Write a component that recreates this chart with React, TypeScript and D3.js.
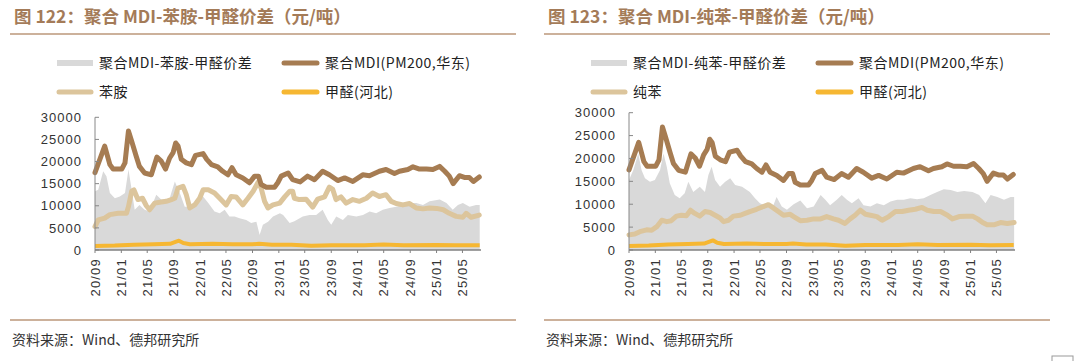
import React from 'react'
import * as d3 from 'd3'

// 聚合MDI(PM200,华东), shared by both panels
const mdiPrice: [string, number][] = [
  ['2020-09-01', 17500], ['2020-10-16', 23500], ['2020-11-09', 19300], ['2020-11-24', 18300],
  ['2021-01-03', 18300], ['2021-01-18', 19700], ['2021-02-03', 26900], ['2021-02-18', 24600],
  ['2021-03-11', 21200], ['2021-03-26', 18900], ['2021-04-19', 17400], ['2021-05-20', 17000],
  ['2021-06-15', 21000], ['2021-07-05', 20100], ['2021-07-25', 18300], ['2021-08-13', 20800],
  ['2021-08-29', 22000], ['2021-09-10', 24200], ['2021-09-21', 23500], ['2021-10-06', 20500],
  ['2021-10-29', 19700], ['2021-11-22', 19300], ['2021-12-11', 21400], ['2022-01-15', 21800],
  ['2022-02-01', 20500], ['2022-02-23', 19300], ['2022-03-24', 18800], ['2022-04-16', 17800],
  ['2022-05-10', 17000], ['2022-05-29', 18600], ['2022-06-17', 17000], ['2022-07-18', 16300],
  ['2022-08-18', 15200], ['2022-09-11', 16700], ['2022-09-29', 16700], ['2022-10-11', 14800],
  ['2022-11-04', 14200], ['2022-12-12', 14200], ['2022-12-27', 15200], ['2023-01-12', 16700],
  ['2023-02-13', 17400], ['2023-03-06', 15900], ['2023-04-10', 15400], ['2023-05-14', 16700],
  ['2023-06-15', 15900], ['2023-07-23', 17800], ['2023-08-23', 17000], ['2023-10-01', 15700],
  ['2023-11-02', 16300], ['2023-12-10', 15500], ['2024-01-25', 17000], ['2024-02-25', 16800],
  ['2024-04-11', 17800], ['2024-05-12', 18200], ['2024-06-20', 17300], ['2024-07-13', 17800],
  ['2024-08-21', 18200], ['2024-09-14', 18800], ['2024-10-14', 18300], ['2024-11-15', 18300],
  ['2024-12-15', 18200], ['2025-01-15', 18900], ['2025-02-08', 17800], ['2025-03-01', 16700],
  ['2025-03-19', 15000], ['2025-04-17', 16800], ['2025-05-10', 16400], ['2025-06-02', 16400],
  ['2025-06-21', 15500], ['2025-07-18', 16500],
]

// 甲醛(河北), shared
const formaldehydePrice: [string, number][] = [
  ['2020-09-01', 900], ['2020-12-01', 1000], ['2021-03-01', 1200], ['2021-06-01', 1300],
  ['2021-08-15', 1400], ['2021-09-25', 2100], ['2021-10-15', 1600], ['2021-11-15', 1300],
  ['2022-03-01', 1400], ['2022-06-01', 1300], ['2022-09-01', 1300], ['2022-10-01', 1400],
  ['2022-12-01', 1200], ['2023-03-01', 1200], ['2023-06-01', 950], ['2023-09-01', 1100],
  ['2024-02-01', 1100], ['2024-05-01', 1250], ['2024-08-01', 1100], ['2025-01-01', 1150],
  ['2025-04-01', 1050], ['2025-07-20', 1100],
]

// 苯胺
const anilinePrice: [string, number][] = [
  ['2020-09-01', 5300], ['2020-09-16', 6800], ['2020-10-16', 7200], ['2020-11-09', 8000],
  ['2020-12-17', 8300], ['2021-01-25', 8300], ['2021-02-03', 9800], ['2021-02-18', 13300],
  ['2021-02-28', 13600], ['2021-03-19', 11400], ['2021-04-09', 11700], ['2021-04-27', 10000],
  ['2021-05-12', 9100], ['2021-06-05', 10600], ['2021-06-28', 10800], ['2021-07-28', 11000],
  ['2021-08-21', 11400], ['2021-09-06', 11700], ['2021-09-21', 14000], ['2021-10-14', 14400],
  ['2021-10-29', 12500], ['2021-11-14', 9500], ['2021-12-07', 10200], ['2021-12-30', 11700],
  ['2022-01-15', 13600], ['2022-02-08', 13600], ['2022-03-09', 12900], ['2022-04-02', 11700],
  ['2022-05-02', 10200], ['2022-05-25', 12100], ['2022-06-17', 12000], ['2022-07-18', 10200],
  ['2022-08-11', 11700], ['2022-09-04', 13300], ['2022-09-27', 15300], ['2022-10-11', 14000],
  ['2022-10-27', 11000], ['2022-11-12', 9500], ['2022-12-05', 10200], ['2023-01-05', 10600],
  ['2023-01-28', 12000], ['2023-02-21', 13300], ['2023-03-06', 13300], ['2023-03-14', 11700],
  ['2023-04-06', 11400], ['2023-05-07', 11500], ['2023-06-07', 9700], ['2023-06-30', 11500],
  ['2023-08-01', 12000], ['2023-08-23', 14200], ['2023-09-08', 13700], ['2023-09-23', 11400],
  ['2023-10-16', 12000], ['2023-11-09', 10600], ['2023-12-10', 11400], ['2024-01-10', 11000],
  ['2024-02-11', 11700], ['2024-03-11', 12900], ['2024-04-11', 12100], ['2024-05-12', 12500],
  ['2024-06-05', 11000], ['2024-06-28', 10500], ['2024-07-29', 10200], ['2024-08-29', 10500],
  ['2024-09-29', 9500], ['2024-10-30', 9300], ['2024-11-30', 9500], ['2025-01-01', 9400],
  ['2025-02-01', 9100], ['2025-03-01', 8300], ['2025-04-02', 7600], ['2025-05-03', 7400],
  ['2025-05-18', 8300], ['2025-06-10', 7400], ['2025-07-18', 7900],
]

// 聚合MDI-苯胺-甲醛价差
const anilineSpread: [string, number][] = [
  ['2020-09-01', 13300], ['2020-09-16', 13600], ['2020-10-09', 17800], ['2020-10-24', 16700],
  ['2020-11-09', 12900], ['2020-12-02', 11700], ['2020-12-25', 12100], ['2021-01-18', 12900],
  ['2021-02-03', 18200], ['2021-02-18', 13600], ['2021-03-04', 9100], ['2021-03-26', 10200],
  ['2021-04-19', 9100], ['2021-05-12', 8700], ['2021-06-12', 12500], ['2021-07-05', 11400],
  ['2021-07-28', 11400], ['2021-08-13', 11700], ['2021-09-06', 15500], ['2021-09-29', 12900],
  ['2021-10-22', 9800], ['2021-11-14', 9800], ['2021-12-15', 11000], ['2022-01-15', 12100],
  ['2022-02-08', 10600], ['2022-03-09', 8700], ['2022-04-02', 8300], ['2022-04-25', 9100],
  ['2022-05-17', 7600], ['2022-06-10', 7600], ['2022-07-03', 7200], ['2022-08-03', 6800],
  ['2022-08-26', 6100], ['2022-09-19', 6400], ['2022-10-04', 3400], ['2022-10-19', 5700],
  ['2022-11-12', 6400], ['2022-12-05', 7600], ['2023-01-06', 8300], ['2023-01-21', 7900],
  ['2023-02-20', 6100], ['2023-03-14', 6500], ['2023-04-22', 7600], ['2023-05-23', 7900],
  ['2023-06-23', 7900], ['2023-07-23', 9100], ['2023-08-16', 6800], ['2023-09-01', 5700],
  ['2023-09-24', 7600], ['2023-10-25', 6800], ['2023-11-17', 7900], ['2023-12-26', 7600],
  ['2024-01-26', 7900], ['2024-02-26', 8700], ['2024-03-27', 8300], ['2024-04-27', 9100],
  ['2024-05-28', 9500], ['2024-06-28', 9800], ['2024-07-29', 10200], ['2024-08-29', 10600],
  ['2024-09-29', 10600], ['2024-10-30', 10200], ['2024-11-30', 11000], ['2025-01-16', 11400],
  ['2025-02-16', 10600], ['2025-03-17', 9100], ['2025-04-10', 10200], ['2025-05-03', 10600],
  ['2025-06-03', 9800], ['2025-07-03', 10200], ['2025-07-20', 10200],
]

// 纯苯
const benzenePrice: [string, number][] = [
  ['2020-09-01', 3300], ['2020-09-28', 3500], ['2020-10-21', 4000], ['2020-11-22', 4400],
  ['2020-12-15', 4300], ['2021-01-08', 5100], ['2021-01-31', 6500], ['2021-02-23', 6200],
  ['2021-03-16', 6400], ['2021-04-09', 7400], ['2021-05-02', 7600], ['2021-05-25', 7500],
  ['2021-06-13', 8700], ['2021-07-03', 8000], ['2021-07-26', 7400], ['2021-08-19', 8400],
  ['2021-09-12', 8200], ['2021-10-05', 7600], ['2021-10-28', 7000], ['2021-11-13', 6200],
  ['2021-12-06', 6500], ['2021-12-29', 7400], ['2022-01-30', 7600], ['2022-02-21', 8000],
  ['2022-03-15', 8400], ['2022-04-15', 8900], ['2022-05-16', 9500], ['2022-06-09', 9900],
  ['2022-07-02', 9200], ['2022-07-25', 8400], ['2022-08-18', 7600], ['2022-09-18', 7800],
  ['2022-10-04', 7300], ['2022-11-04', 6400], ['2022-12-05', 6500], ['2023-01-05', 6800],
  ['2023-02-06', 6800], ['2023-03-06', 7300], ['2023-04-07', 6800], ['2023-04-30', 6500],
  ['2023-05-30', 5800], ['2023-06-23', 6800], ['2023-07-16', 7600], ['2023-08-09', 8700],
  ['2023-09-02', 7800], ['2023-09-25', 7600], ['2023-10-25', 7300], ['2023-11-18', 6500],
  ['2023-12-19', 7300], ['2024-01-19', 8400], ['2024-02-19', 8400], ['2024-03-20', 8700],
  ['2024-04-20', 8900], ['2024-05-21', 9300], ['2024-06-14', 8700], ['2024-07-15', 8400],
  ['2024-08-15', 8400], ['2024-09-16', 7600], ['2024-10-09', 6800], ['2024-11-09', 7300],
  ['2024-12-10', 7400], ['2025-01-10', 7400], ['2025-02-03', 6800], ['2025-02-26', 6000],
  ['2025-03-19', 5500], ['2025-04-19', 5500], ['2025-05-20', 6000], ['2025-06-20', 5800],
  ['2025-07-22', 6000],
]

// 聚合MDI-纯苯-甲醛价差
const benzeneSpread: [string, number][] = [
  ['2020-09-01', 15300], ['2020-09-21', 17500], ['2020-10-14', 21100], ['2020-10-29', 17500],
  ['2020-11-14', 15700], ['2020-12-07', 14900], ['2020-12-30', 15300], ['2021-01-23', 17500],
  ['2021-02-08', 21100], ['2021-02-23', 18200], ['2021-03-09', 14600], ['2021-04-01', 12000],
  ['2021-04-24', 11300], ['2021-05-17', 12400], ['2021-06-03', 14900], ['2021-06-26', 12700],
  ['2021-07-26', 13800], ['2021-08-19', 12700], ['2021-09-04', 16400], ['2021-09-19', 18200],
  ['2021-10-05', 15300], ['2021-10-28', 13800], ['2021-11-21', 14900], ['2021-12-14', 15700],
  ['2022-01-06', 14200], ['2022-02-07', 13800], ['2022-03-15', 12700], ['2022-04-08', 11300],
  ['2022-05-01', 10200], ['2022-06-02', 9500], ['2022-07-02', 9800], ['2022-07-17', 11600],
  ['2022-08-10', 9500], ['2022-09-03', 8800], ['2022-10-04', 10000], ['2022-11-04', 10800],
  ['2022-12-05', 9100], ['2023-01-05', 9500], ['2023-02-06', 12000], ['2023-02-28', 11000],
  ['2023-03-22', 9800], ['2023-04-22', 11000], ['2023-05-15', 12000], ['2023-06-08', 11000],
  ['2023-07-01', 10200], ['2023-08-01', 11300], ['2023-08-24', 9800], ['2023-09-25', 9500],
  ['2023-10-25', 10200], ['2023-11-26', 9800], ['2023-12-27', 10600], ['2024-01-27', 11000],
  ['2024-02-27', 11000], ['2024-03-28', 11300], ['2024-04-28', 11100], ['2024-05-29', 11300],
  ['2024-06-29', 12000], ['2024-07-30', 12700], ['2024-08-30', 13300], ['2024-10-01', 13100],
  ['2024-11-01', 12700], ['2024-12-02', 12900], ['2025-01-10', 12700], ['2025-02-10', 12000],
  ['2025-03-11', 10200], ['2025-04-04', 12000], ['2025-05-05', 11600], ['2025-06-05', 11000],
  ['2025-07-06', 11600], ['2025-07-22', 11600],
]

const tickDates = [
  '2020-09-01', '2021-01-01', '2021-05-01', '2021-09-01', '2022-01-01', '2022-05-01',
  '2022-09-01', '2023-01-01', '2023-05-01', '2023-09-01', '2024-01-01', '2024-05-01',
  '2024-09-01', '2025-01-01', '2025-05-01',
]
const yTicks = [0, 5000, 10000, 15000, 20000, 25000, 30000]

const parse = d3.timeParse('%Y-%m-%d')
const fmtTick = d3.timeFormat('%y/%m')

const CJK = '"Noto Sans CJK SC", sans-serif'
const NUM = '"Liberation Sans", Arial, sans-serif'

const C_SPREAD = '#d9d9d9'
const C_MDI = '#a67c52'
const C_FEED = '#dcc59c'
const C_HCHO = '#f6b732'
const C_TITLE = '#a47b58'
const C_RULE = '#bb977a'

function Panel({ dx, title, spreadLabel, feedLabel, spread, feed, yTop }: any) {
  const x = d3.scaleTime()
    .domain([parse('2020-09-01')!, parse('2025-07-26')!])
    .range([95, 481])
  const y = d3.scaleLinear().domain([0, 30000]).range([250, yTop])

  const line = d3.line<[string, number]>()
    .x(d => x(parse(d[0])!))
    .y(d => y(d[1]))
  const area = d3.area<[string, number]>()
    .x(d => x(parse(d[0])!))
    .y0(y(0))
    .y1(d => y(d[1]))

  const legendText = { fontFamily: CJK, fontSize: 14, letterSpacing: 0.5, fill: '#222' }

  return (
    <g transform={`translate(${dx},0)`}>
      <text x={14} y={23} fontFamily={CJK} fontWeight="bold" fontSize={17.5} fill={C_TITLE}>{title}</text>
      <line x1={10} x2={516} y1={34} y2={34} stroke={C_RULE} strokeWidth={1.5} />

      <rect x={57} y={60} width={36} height={6} fill={C_SPREAD} />
      <text x={99} y={68} {...legendText}>{spreadLabel}</text>
      <line x1={284} x2={317} y1={63} y2={63} stroke={C_MDI} strokeWidth={5} strokeLinecap="round" />
      <text x={325} y={68} {...legendText}>聚合MDI(PM200,华东)</text>
      <line x1={59} x2={91} y1={92} y2={92} stroke={C_FEED} strokeWidth={5} strokeLinecap="round" />
      <text x={99} y={97} {...legendText}>{feedLabel}</text>
      <line x1={284} x2={317} y1={92} y2={92} stroke={C_HCHO} strokeWidth={5} strokeLinecap="round" />
      <text x={325} y={97} {...legendText}>甲醛(河北)</text>

      <path d={area(spread)!} fill={C_SPREAD} />
      <path d={line(formaldehydePrice)!} fill="none" stroke={C_HCHO} strokeWidth={4} strokeLinejoin="round" />
      <path d={line(feed)!} fill="none" stroke={C_FEED} strokeWidth={5} strokeLinejoin="round" strokeLinecap="round" />
      <path d={line(mdiPrice)!} fill="none" stroke={C_MDI} strokeWidth={5} strokeLinejoin="round" strokeLinecap="round" />

      <line x1={95} x2={95} y1={yTop} y2={250} stroke="#888" strokeWidth={1} />
      {yTicks.map(t => (
        <g key={t}>
          <line x1={95} x2={99} y1={y(t)} y2={y(t)} stroke="#888" />
          <text x={82} y={y(t)} dy="0.36em" textAnchor="end" fontFamily={NUM} fontSize={13}
            letterSpacing={1} fill="#333">{t}</text>
        </g>
      ))}
      <line x1={95} x2={481} y1={250} y2={250} stroke="#808080" strokeWidth={1.5} />
      {tickDates.map(s => {
        const tx = x(parse(s)!)
        return (
          <g key={s}>
            <line x1={tx} x2={tx} y1={250} y2={253} stroke="#808080" />
            <text transform={`translate(${tx},258) rotate(-90)`} dy="0.36em" textAnchor="end"
              fontFamily={NUM} fontSize={13} letterSpacing={1.2} fill="#333">{fmtTick(parse(s)!)}</text>
          </g>
        )
      })}

      <line x1={10} x2={516} y1={320} y2={320} stroke={C_RULE} strokeWidth={1.5} />
      <text x={12} y={345} fontFamily={CJK} fontSize={14} fill="#333">资料来源：Wind、德邦研究所</text>
    </g>
  )
}

export default function App() {
  return (
    <svg width={1080} height={361} viewBox="0 0 1080 361"
      style={{ position: 'absolute', left: 0, top: 0, background: '#fff' }}>
      <rect width={1080} height={361} fill="#fff" />
      <Panel dx={0} title="图 122：聚合 MDI-苯胺-甲醛价差（元/吨）" spreadLabel="聚合MDI-苯胺-甲醛价差"
        feedLabel="苯胺" spread={anilineSpread} feed={anilinePrice} yTop={117.3} />
      <Panel dx={534} title="图 123：聚合 MDI-纯苯-甲醛价差（元/吨）" spreadLabel="聚合MDI-纯苯-甲醛价差"
        feedLabel="纯苯" spread={benzeneSpread} feed={benzenePrice} yTop={112.7} />
      <rect x={1052} y={356} width={21} height={12} fill="#fff" stroke="#999" />
    </svg>
  )
}
